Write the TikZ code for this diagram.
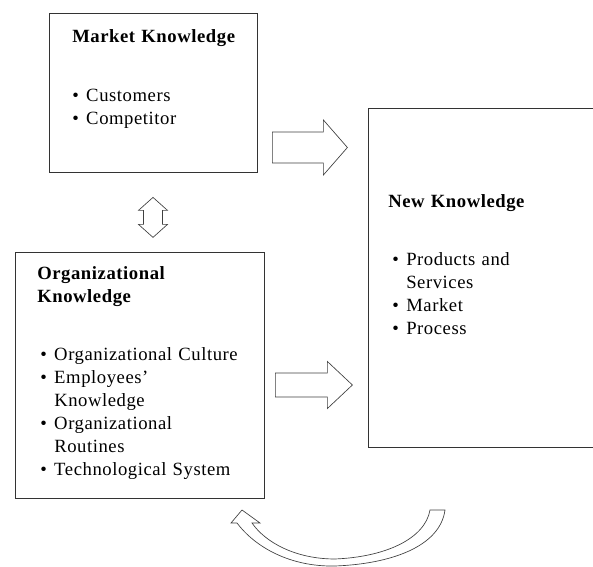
\documentclass[tikz,border=0pt]{standalone}
\usepackage{fontspec}
\setmainfont{Liberation Serif}[LetterSpace=3]
\usetikzlibrary{calc,positioning}
\newcommand{\itm}
	{
	\par\noindent\hangindent=10.5pt\hangafter=1\makebox[10.5pt][l]{\textbullet}%
	}
\newcommand{\fatarrow}[5]
	{
	\draw[blockarrow] ($(#1)+(0,#3)$) -- ++({#2-#5},0) -- ++(0,{#4-#3}) -- ($(#1)+(#2,0)$)
		-- ++(-#5,-#4) -- ++(0,{#4-#3}) -- ($(#1)+(0,-#3)$) -- cycle;%shaft and head
	}

\begin{document}
\begin{tikzpicture}[x=0.75pt,y=0.75pt,
    box/.style={draw=black!80, line width=0.6pt},
    blockarrow/.style={draw=black!75, line width=0.5pt, fill=white},
    head/.style={font=\fontsize{14}{17.25}\selectfont\bfseries, anchor=north west, inner sep=0, align=left},
    items/.style={font=\fontsize{14}{17.25}\selectfont, anchor=north west, inner sep=0, align=left}]
    \useasboundingbox (0,0) rectangle (593,567);
    \clip (0,0) rectangle (593,567);

    % boxes
    \node[box, minimum width=208*0.75pt, minimum height=159*0.75pt] (mk) at (153,474.5) {};
    \node[box, minimum width=252*0.75pt, minimum height=339*0.75pt] (nk) at (494,289.5) {};
    \node[box, minimum width=249*0.75pt, minimum height=246*0.75pt] (ok) at (139.5,192) {};

    % texts
    \node[head, text width=150pt] (mktitle) at (72,537.7) {Market Knowledge};
    \node[items, text width=150pt] (mklist) at (72,488.7) {\itm Customers \itm Competitor};
    \node[head, text width=150pt] (nktitle) at (388,372.7) {New Knowledge};
    \node[items, text width=150pt] (nklist) at (392,324.7)
        {\itm Products and\newline Services \itm Market \itm Process};
    \node[head, text width=160pt] (oktitle) at (37,300.7) {Organizational\\Knowledge};
    \node[items, text width=170pt] (oklist) at (40,229.7)
        {\itm Organizational Culture \itm Employees'\newline Knowledge
         \itm Organizational\newline Routines \itm Technological System};

    % arrows
    \coordinate (a1) at ($(mk.east)+(15,-55)$);
    \coordinate (a2) at ($(ok.east)+(11,-10)$);
    \fatarrow{a1}{75}{15.5}{27.5}{24}
    \fatarrow{a2}{77}{12}{23.5}{25}

    \coordinate (dtop) at ($(mk.south)+(0,-25)$);
    \draw[blockarrow] (dtop) -- ++(14.5,-13) -- ++(-5,0) -- ++(0,-14) -- ++(5,0) -- ++(-14.5,-13)
        -- ++(-14.5,13) -- ++(5,0) -- ++(0,14) -- ++(-5,0) -- cycle;

    % feedback
    \draw[blockarrow] (445,57) .. controls (440,20) and (390,3) .. (335,1)
        .. controls (290,0) and (255,20) .. (237,44) -- (231,44) -- (242,57) -- (260,44) -- (252,44)
        .. controls (265,25) and (295,8) .. (335,8) .. controls (385,10) and (425,28) .. (430,57) -- cycle;
\end{tikzpicture}
\end{document}
